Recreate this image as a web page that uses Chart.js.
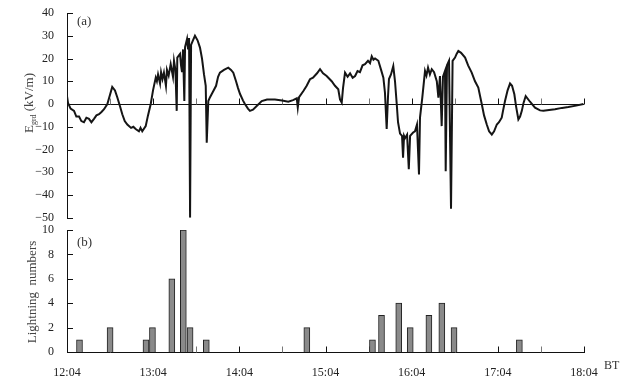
<!DOCTYPE html>
<html>
<head>
<meta charset="utf-8">
<script src="https://cdn.jsdelivr.net/npm/chart.js@4.4.0/dist/chart.umd.min.js"></script>
<style>
    body { margin: 0; background: #fff; }
    #wrap { position: relative; width: 638px; height: 381px; }
    #fieldChart { position: absolute; left: 0; top: 0; }
    #flashChart { position: absolute; left: 0; top: 212px; }
</style>
</head>
<body>
<div id="wrap">
    <canvas id="fieldChart" width="638" height="230"></canvas>
    <canvas id="flashChart" width="638" height="169"></canvas>
</div>
<script>
// minutes after 12:04 BT
const fieldMinutes = [
    0, 0.7, 2.5, 4.9, 6.5, 8.4, 10, 11.8, 13.5, 15.3, 17, 18.8, 20.5, 22.3, 24, 25.8, 28.1, 29.9, 31.5, 33.4, 35.0, 36.9, 38.5,
    40.2, 42.0, 44.6, 46.2, 47.8, 50.1, 51.2, 52.4, 54.8, 56.4, 58.3, 59.9, 61.8, 62.6, 63.4, 64.8, 65.5, 66.5, 67.5, 68.9,
    69.6, 70.8, 72.2, 73.8, 74.5, 75.5, 76.4, 76.8, 78.7, 79.4, 80.1, 80.8, 81.7, 82.2, 83.6, 84.3, 85.0, 85.7, 86.4,
    87.7, 89.1, 90.9, 92.6, 94.0, 95.4, 96.6, 97.3, 98.4, 99.6, 101.9, 103.8, 105.2, 106.5,
    109.3, 112.3, 114.2, 115.8, 117.7, 119.1, 120.5, 122.6, 123.9, 126.0, 127.4, 129.5, 132.1,
    135.6, 139.3, 144.8, 149.7, 154.1, 157.4, 160.0, 160.7, 161.6, 164.6, 166.9, 169.2, 171.3,
    174.1, 176.2, 178.3, 180.8, 184.3, 186.6, 188.9, 190.1, 191.3, 192.2, 193.6, 195.4, 197.1, 198.9, 200.6,
    202.3, 204.0, 205.8, 207.5, 209.6, 211, 212.2, 213.4, 214.5, 216.8, 218.7, 220.3, 221.4, 222.6, 223.5, 224.2, 225.6,
    227.2, 228.4, 229.6, 230.5, 231.9, 233.3, 234.0, 234.7, 235.4, 236.8, 238.0, 238.9, 241.0,
    242.3, 243.7, 245.1, 245.8, 247.4, 249.3, 250.3, 251.4, 252.7, 254.0, 255.6, 257.5, 258.6, 259.7, 260.9,
    261.8, 263.2, 263.7, 264.6, 266.0, 267.4, 268.5, 270.2, 271.3, 272.5, 274.4, 277.2, 279.3, 281.8,
    284.1, 286.4, 288.8, 290.4, 292.3, 293.9, 295.8, 297.4, 299.3, 300.8, 302.7, 303.6, 305.0,
    306.8, 308.5, 309.9, 311.5, 312.7, 314.3, 315.5, 316.7, 317.9, 319.4, 322.4, 325.9, 329.4,
    331.7, 335.7, 339.8, 344.7, 349.1, 354.5, 359.6
];
// E_grd, kV/m
const fieldValues = [
    3.5, 0.5, -2, -3, -5.5, -5.5, -7.5, -8, -6, -6.5, -8, -6.5, -5, -4.5, -3.5, -2.3, 0, 4, 7.5, 6, 3, -1, -4.5,
    -7.5, -9, -10.5, -10, -11, -12, -10.5, -12, -9.7, -5, 0, 6, 11.6, 10, 13, 9, 14, 11, 13.8, 8,
    15, 12.5, 17.5, 12, 19, 15, -3, 20.4, 22, 17, 14, 24, 1.3, 25, 28.6, 24, 29, -50, 26,
    28, 30, 28, 24.8, 20, 13, 8, -17, 1.3, 3, 5.7, 8, 12, 13.8,
    15, 16, 15, 13.8, 10, 7, 4.4, 1.5, 0, -2, -3, -2.5, -0.9,
    1.3, 2, 2, 1.5, 1, 1.7, 2.5, -1.6, 3, 5.7, 8, 10.9, 11.6,
    13.5, 15.3, 13.5, 12.3, 10, 8, 6.5, 2, 0.6, 7, 13.8, 12, 13.5, 11.5, 12.3,
    14.5, 14, 17, 17.5, 19, 18, 21, 19.5, 20, 19, 15, 11.6, 5, -11, 3, 11, 13,
    16.7, 10, 0, -8, -13, -14, -23.6, -14, -15, -13.5, -28.6, -14, -12.5,
    -12, -9, -31, -6, 2.8, 14.5, 12.5, 16, 13, 15.3, 14, 10, 2.8, 12.3, -9.7,
    12, 14.5, -29.5, 17, 19, -46, 19, 20.4, 22, 23.3, 22.5, 20.4, 17, 13.8,
    10, 7.2, 0, -5, -9, -12, -13.4, -12, -9, -8, -6, -3, 1.3,
    6, 9, 8, 4.3, -1, -6.8, -5.5, -3, 0.5, 3.5, 1, -1.6, -2.8,
    -3, -2.6, -2.3, -1.7, -1.3, -0.7, 0
];

const flashMinutes = [8.7, 30, 55, 59.5, 73, 81, 85.7, 97, 167, 212.7, 219, 231, 239, 252, 261, 269.5, 315];
const flashCounts  = [1, 2, 1, 2, 6, 10, 2, 1, 2, 1, 3, 4, 2, 3, 4, 2, 1];

const timeTickMinutes = [0, 30, 60, 90, 120, 150, 180, 210, 240, 270, 300, 330, 360];
const timeLabelMinutes = [0, 60, 120, 180, 240, 300, 360];
const fieldTicks = [-50, -40, -30, -20, -10, 0, 10, 20, 30, 40];
const flashTicks = [0, 2, 4, 6, 8, 10];

const FONT = "'Liberation Serif', 'DejaVu Serif', serif";

function timeLabel(m) {
    return (12 + Math.round(m / 60)) + ':04';
}

function minusLabel(v) {
    return v < 0 ? '\u2212' + Math.abs(v) : String(v);
}

// inward ticks, baseline, panel letter and axis titles
const panelDecor = {
    id: 'panelDecor',
    beforeDatasetsDraw(chart, args, opts) {
        const ctx = chart.ctx;
        const x = chart.scales.x, y = chart.scales.y, area = chart.chartArea;
        ctx.save();
        ctx.lineWidth = 1;
        ctx.strokeStyle = '#111';
        y.ticks.forEach(t => {
            const py = Math.round(y.getPixelForValue(t.value)) + 0.5;
            ctx.beginPath();
            ctx.moveTo(area.left, py);
            ctx.lineTo(area.left + 6, py);
            ctx.stroke();
        });
        const base = Math.round(y.getPixelForValue(opts.baseValue)) + 0.5;
        if (opts.drawBase) {
            ctx.beginPath();
            ctx.moveTo(area.left, base);
            ctx.lineTo(area.right, base);
            ctx.stroke();
        }
        timeTickMinutes.forEach(m => {
            if (m === 0) return;
            const px = Math.round(x.getPixelForValue(m)) + 0.5;
            ctx.strokeStyle = (m % 60 === 0) ? '#111' : '#777';
            ctx.beginPath();
            ctx.moveTo(px, base);
            ctx.lineTo(px, base - 6);
            ctx.stroke();
        });
        ctx.restore();
    },
    afterDraw(chart, args, opts) {
        const ctx = chart.ctx, area = chart.chartArea;
        ctx.save();
        ctx.fillStyle = '#333';
        ctx.font = '13px ' + FONT;
        ctx.textBaseline = 'middle';
        ctx.textAlign = 'left';
        ctx.fillText(opts.letter, area.left + 10, area.top + opts.letterDy);

        // rotated axis title
        ctx.translate(opts.titleX, opts.titleY);
        ctx.rotate(-Math.PI / 2);
        ctx.fillStyle = '#444';
        const parts = opts.title;
        let total = 0;
        parts.forEach(p => {
            ctx.font = p.size + 'px ' + FONT;
            total += ctx.measureText(p.text).width;
        });
        let cx = -total / 2;
        parts.forEach(p => {
            ctx.font = p.size + 'px ' + FONT;
            ctx.fillText(p.text, cx, p.dy || 0);
            cx += ctx.measureText(p.text).width;
        });
        ctx.restore();

        if (opts.unit) {
            ctx.save();
            ctx.fillStyle = '#333';
            ctx.font = '12px ' + FONT;
            ctx.textBaseline = 'middle';
            ctx.fillText(opts.unit, area.right + 20, area.bottom + 14);
            ctx.restore();
        }
    }
};

const fieldChart = new Chart(document.getElementById('fieldChart'), {
    type: 'line',
    data: {
        datasets: [{
            data: fieldMinutes.map((m, i) => ({ x: m, y: fieldValues[i] })),
            borderColor: '#151515',
            borderWidth: 2,
            pointRadius: 0,
            tension: 0,
            fill: false
        }]
    },
    options: {
        responsive: false,
        animation: false,
        layout: { padding: { top: 13, bottom: 12, left: 0, right: 54 } },
        plugins: {
            legend: { display: false },
            tooltip: { enabled: false },
            panelDecor: {
                letter: '(a)', letterDy: 9, baseValue: 0, drawBase: true,
                titleX: 30, titleY: 103,
                title: [{ text: 'E', size: 13 }, { text: 'grd', size: 8, dy: 4 }, { text: ' (kV/m)', size: 13 }]
            }
        },
        scales: {
            x: { type: 'linear', min: 0, max: 360, display: false },
            y: {
                min: -50, max: 40,
                afterFit: s => { s.width = 67; },
                afterBuildTicks: s => { s.ticks = fieldTicks.map(v => ({ value: v })); },
                grid: { display: false },
                border: { display: true, color: '#111', width: 1 },
                ticks: {
                    padding: 5, color: '#222',
                    font: { family: FONT, size: 12 },
                    callback: v => minusLabel(v)
                }
            }
        }
    },
    plugins: [panelDecor]
});

const flashChart = new Chart(document.getElementById('flashChart'), {
    type: 'bar',
    data: {
        datasets: [{
            data: flashMinutes.map((m, i) => ({ x: m, y: flashCounts[i] })),
            backgroundColor: '#8a8a8a',
            borderColor: '#222',
            borderWidth: 1,
            barThickness: 6
        }]
    },
    options: {
        responsive: false,
        animation: false,
        layout: { padding: { top: 18, bottom: 0, left: 0, right: 54 } },
        plugins: {
            legend: { display: false },
            tooltip: { enabled: false },
            panelDecor: {
                letter: '(b)', letterDy: 13, baseValue: 0, drawBase: false,
                titleX: 33, titleY: 80,
                title: [{ text: 'Lightning  numbers', size: 13 }],
                unit: 'BT'
            }
        },
        scales: {
            x: {
                type: 'linear', min: 0, max: 360, offset: false,
                afterFit: s => { s.height = 29; },
                afterBuildTicks: s => { s.ticks = timeLabelMinutes.map(v => ({ value: v })); },
                grid: { display: false, offset: false },
                border: { display: true, color: '#111', width: 1 },
                ticks: {
                    padding: 6, color: '#222', maxRotation: 0,
                    font: { family: FONT, size: 12 },
                    callback: v => timeLabel(v)
                }
            },
            y: {
                min: 0, max: 10,
                afterFit: s => { s.width = 67; },
                afterBuildTicks: s => { s.ticks = flashTicks.map(v => ({ value: v })); },
                grid: { display: false },
                border: { display: true, color: '#111', width: 1 },
                ticks: {
                    padding: 5, color: '#222',
                    font: { family: FONT, size: 12 }
                }
            }
        }
    },
    plugins: [panelDecor]
});
</script>
</body>
</html>
